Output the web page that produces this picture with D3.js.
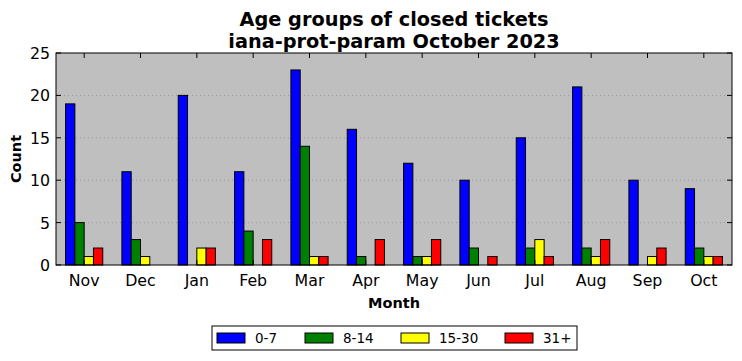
<!DOCTYPE html>
<html>
<head>
<meta charset="utf-8">
<script src="https://cdn.jsdelivr.net/npm/d3@7"></script>
<style>
  body { margin: 0; background: #fff; }
  text { font-family: "DejaVu Sans", sans-serif; }
</style>
</head>
<body>
<div id="chart"></div>
<script>
// data
var months = ["Nov", "Dec", "Jan", "Feb", "Mar", "Apr", "May", "Jun", "Jul", "Aug", "Sep", "Oct"];
var groups = ["0-7", "8-14", "15-30", "31+"];
var colors = ["#0000ff", "#008000", "#ffff00", "#ff0000"];
var age0_7 = [19, 11, 20, 11, 23, 16, 12, 10, 15, 21, 10, 9];
var age8_14 = [5, 3, 0, 4, 14, 1, 1, 2, 2, 2, 0, 2];
var age15_30 = [1, 1, 2, 0, 1, 0, 1, 0, 3, 1, 1, 1];
var age31 = [2, 0, 2, 3, 1, 3, 3, 1, 1, 3, 2, 1];
var series = [age0_7, age8_14, age15_30, age31];
var yTicks = [0, 5, 10, 15, 20, 25];

var W = 742, H = 361;
var margin = {top: 53, right: 10, bottom: 96, left: 56};
var width = W - margin.left - margin.right,
    height = H - margin.top - margin.bottom;

var svg = d3.select("#chart").append("svg")
    .attr("width", W)
    .attr("height", H);

var g = svg.append("g")
    .attr("transform", "translate(" + margin.left + "," + margin.top + ")");

var x = d3.scaleLinear().domain([-0.5, months.length - 0.5]).range([0, width]);
var y = d3.scaleLinear().domain([0, 25]).range([height, 0]);
var bw = 0.165;

g.append("rect")
    .attr("width", width)
    .attr("height", height)
    .style("fill", "#bfbfbf");

// grid
g.selectAll("line.grid")
    .data(yTicks.slice(1, -1))
    .enter().append("line")
    .attr("class", "grid")
    .attr("x1", 0).attr("x2", width)
    .attr("y1", function (d) { return y(d); })
    .attr("y2", function (d) { return y(d); })
    .style("stroke", "#8c8c8c")
    .style("stroke-width", 0.8)
    .style("stroke-dasharray", "1,3");

// bars
series.forEach(function (vals, s) {
    g.selectAll("rect.bar" + s)
        .data(vals)
        .enter().append("rect")
        .attr("class", "bar" + s)
        .attr("x", function (d, i) { return x(i + (s - 2) * bw); })
        .attr("y", function (d) { return y(d); })
        .attr("width", x(bw) - x(0))
        .attr("height", function (d) { return y(0) - y(d); })
        .style("fill", colors[s])
        .style("stroke", "#000")
        .style("stroke-width", function (d) { return d > 0 ? 1 : 0; });
});

// ticks (inside, all sides)
var tl = 5;
months.forEach(function (m, i) {
    g.append("line").attr("x1", x(i)).attr("x2", x(i)).attr("y1", height).attr("y2", height - tl)
        .style("stroke", "#000");
    g.append("line").attr("x1", x(i)).attr("x2", x(i)).attr("y1", 0).attr("y2", tl)
        .style("stroke", "#000");
    g.append("text").attr("x", x(i)).attr("y", height + 21)
        .attr("text-anchor", "middle")
        .style("font-size", "15.8px")
        .text(m);
});
yTicks.forEach(function (t) {
    g.append("line").attr("x1", 0).attr("x2", tl).attr("y1", y(t)).attr("y2", y(t))
        .style("stroke", "#000");
    g.append("line").attr("x1", width).attr("x2", width - tl).attr("y1", y(t)).attr("y2", y(t))
        .style("stroke", "#000");
    g.append("text").attr("x", -6).attr("y", y(t) + 6)
        .attr("text-anchor", "end")
        .style("font-size", "15.8px")
        .text(t);
});

g.append("rect")
    .attr("width", width)
    .attr("height", height)
    .style("fill", "none")
    .style("stroke", "#000")
    .style("stroke-width", 1);

// titles
svg.append("text").attr("x", margin.left + width / 2).attr("y", 26)
    .attr("text-anchor", "middle")
    .style("font-size", "19.3px").style("font-weight", "bold")
    .text("Age groups of closed tickets");
svg.append("text").attr("x", margin.left + width / 2).attr("y", 48)
    .attr("text-anchor", "middle")
    .style("font-size", "19.3px").style("font-weight", "bold")
    .text("iana-prot-param October 2023");

svg.append("text").attr("x", margin.left + width / 2).attr("y", 308)
    .attr("text-anchor", "middle")
    .style("font-size", "14.5px").style("font-weight", "bold")
    .text("Month");
svg.append("text")
    .attr("transform", "translate(21," + (margin.top + height / 2) + ") rotate(-90)")
    .attr("text-anchor", "middle")
    .style("font-size", "14.5px").style("font-weight", "bold")
    .text("Count");

// legend
var lg = svg.append("g").attr("transform", "translate(212,326)");
lg.append("rect").attr("width", 365).attr("height", 24)
    .style("fill", "#fff").style("stroke", "#000").style("stroke-width", 1);
var lx = [5, 93, 189, 293];
var item = lg.selectAll("g.legend")
    .data(groups)
    .enter().append("g")
    .attr("class", "legend")
    .attr("transform", function (d, i) { return "translate(" + lx[i] + ",0)"; });
item.append("rect")
    .attr("x", 0).attr("y", 7)
    .attr("width", 28).attr("height", 10)
    .style("fill", function (d, i) { return colors[i]; })
    .style("stroke", "#000");
item.append("text")
    .attr("x", 38).attr("y", 17)
    .style("font-size", "13.5px")
    .text(function (d) { return d; });
</script>
</body>
</html>
